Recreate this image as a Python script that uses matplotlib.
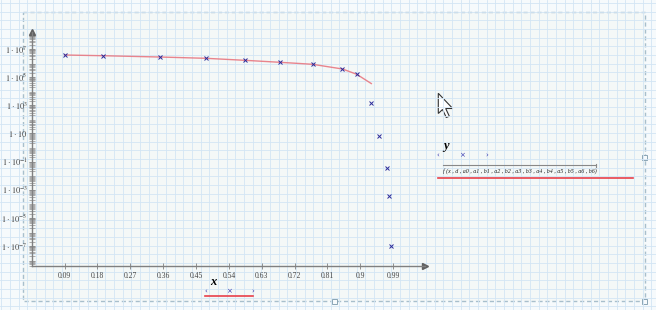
import matplotlib
matplotlib.use("Agg")
import matplotlib.pyplot as plt
from matplotlib.patches import Rectangle, Polygon
import numpy as np

plt.rcParams['mathtext.fontset'] = 'stix'

# data
x_data = [0.09, 0.195, 0.35, 0.478, 0.584, 0.679, 0.769, 0.851, 0.890,
          0.930, 0.952, 0.972, 0.979, 0.985]
y_data = [3.75e6, 3.34e6, 2.70e6, 2.18e6, 1.57e6, 1.14e6, 8.2e5, 3.8e5, 1.6e5,
          1.5e3, 6.6, 3.5e-2, 3.4e-4, 9.5e-8]
x_fit = [0.09, 0.195, 0.35, 0.478, 0.584, 0.679, 0.769, 0.851, 0.890, 0.930]
y_fit = [3.75e6, 3.34e6, 2.70e6, 2.18e6, 1.57e6, 1.14e6, 8.2e5, 3.8e5, 1.6e5, 3.5e4]

x_ticks = [0.09, 0.18, 0.27, 0.36, 0.45, 0.54, 0.63, 0.72, 0.81, 0.9, 0.99]
x_labels = ['0.09', '0.18', '0.27', '0.36', '0.45', '0.54', '0.63', '0.72',
            '0.81', '0.9', '0.99']
y_exps = [7, 5, 3, 1, -1, -3, -5, -7]

W, H = 656, 310
fig = plt.figure(figsize=(W / 100, H / 100), dpi=100)
fig.patch.set_facecolor('#f6fafc')

# worksheet background in pixel coords
bg = fig.add_axes([0, 0, 1, 1], zorder=0)
bg.set_xlim(0, W)
bg.set_ylim(H, 0)
bg.axis('off')
for gx in np.arange(1.3, W, 8.667):
    bg.axvline(gx, color='#d3e5f4', lw=0.6)
for gy in np.arange(3.0, H, 8.667):
    bg.axhline(gy, color='#d3e5f4', lw=0.6)
bg.add_patch(Rectangle((23.3, 12), 621.4, 289, facecolor='#f4f8f7', alpha=0.88,
                       edgecolor='none'))
bg.add_patch(Rectangle((23.3, 12), 621.4, 289, facecolor='none',
                       edgecolor='#a8bfcc', lw=1.0, ls=(0, (3, 2))))
for hx, hy in [(644.7, 157), (334, 301), (644.7, 301)]:
    bg.add_patch(Rectangle((hx - 2.5, hy - 2.5), 5, 5, facecolor='#f6fafc',
                           edgecolor='#8aa5b5', lw=0.7))

# mouse cursor
cursor = [(438.3, 93.3), (438.3, 113.5), (442.5, 109.5), (446.3, 117.5),
          (449.3, 116.2), (445.7, 108.5), (452.7, 108.5)]
bg.add_patch(Polygon(cursor, closed=True, facecolor='white',
                     edgecolor='#333333', lw=0.8))

# y trace legend
bg.text(445.7, 146, 'y', fontsize=9, fontweight='bold', fontstyle='italic',
        family='Liberation Serif', ha='center', va='center')
for px, s in [(438.3, '‹'), (462.3, '×'), (486.3, '›')]:
    bg.text(px, 155, s, fontsize=5, color='#3a3ab0', ha='center', va='center',
            family='DejaVu Sans')
bg.plot([443.3, 596], [165.3, 165.3], color='#888888', lw=0.8)
bg.plot([596, 596], [163.8, 166.8], color='#888888', lw=0.8)
bg.text(443.3, 171.5,
        'f (x , d , a0 , a1 , b1 , a2 , b2 , a3 , b3 , a4 , b4 , a5 , b5 , a6 , b6)',
        fontsize=4.3, fontstyle='italic', family='Liberation Serif',
        ha='left', va='center', color='#222222')
bg.plot([438, 633.3], [177.7, 177.7], color='#e8404a', lw=1.2)

# x trace legend
bg.text(213, 282, 'x', fontsize=9, fontweight='bold', fontstyle='italic',
        family='Liberation Serif', ha='center', va='center')
for px, s in [(205.7, '‹'), (229.3, '×'), (253, '›')]:
    bg.text(px, 291.3, s, fontsize=5, color='#3a3ab0', ha='center', va='center',
            family='DejaVu Sans')
bg.plot([205, 253.3], [296, 296], color='#e8404a', lw=1.2)

# main plot
left, right, bottom, top = 31.7, 425, 266, 31.7
ax = fig.add_axes([left / W, 1 - bottom / H, (right - left) / W, (bottom - top) / H],
                  zorder=1)
ax.patch.set_alpha(0)
ax.set_yscale('log')
ax.plot(x_fit, y_fit, color='#e8707a', lw=1.0, alpha=0.85)
ax.plot(x_data, y_data, 'x', color='#2a2a9a', ms=2.5, mew=0.7)

for s in ['top', 'right']:
    ax.spines[s].set_visible(False)
for s in ['left', 'bottom']:
    ax.spines[s].set_color('#808080')
    ax.spines[s].set_linewidth(1.0)
ax.plot(1, 0, '>', color='#606060', ms=4, transform=ax.transAxes, clip_on=False)
ax.plot(0, 1, '^', color='#606060', ms=4, transform=ax.transAxes, clip_on=False)

ax.set_xticks(x_ticks)
ax.set_xticklabels(x_labels, family='Liberation Serif', fontsize=5.5, color='#444444')
ax.tick_params(axis='x', direction='inout', length=4, width=0.6, color='#808080', pad=2)

ax.set_yticks([10.0 ** e for e in y_exps])
ax.set_yticklabels([r'$1\cdot10$' if e == 1 else r'$1\cdot10^{%d}$' % e for e in y_exps],
                   fontsize=6, color='#444444')
ax.set_yticks([m * 10.0 ** e for e in range(-9, 9) for m in range(2, 10)], minor=True)
ax.tick_params(axis='y', which='major', direction='inout', length=4, width=0.6,
               color='#808080', pad=1)
ax.tick_params(axis='y', which='minor', direction='inout', length=4, width=0.5,
               color='#909090', labelleft=False)

ax.set_xlim(0, 1.077)
ax.set_ylim(10 ** -8.42, 10 ** 8.23)

fig.savefig('out.png', dpi=100, facecolor=fig.get_facecolor())
